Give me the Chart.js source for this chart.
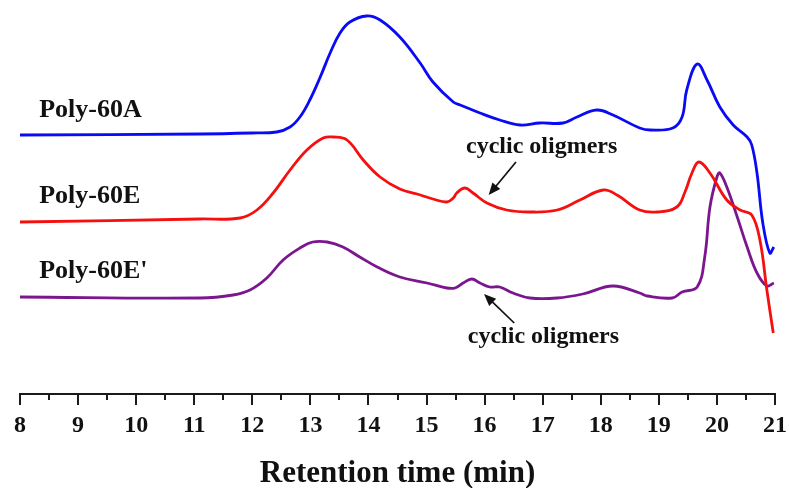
<!DOCTYPE html>
<html>
<head>
<meta charset="utf-8">
<script src="https://cdn.jsdelivr.net/npm/chart.js@4"></script>
<style>
  html, body { margin: 0; padding: 0; background: #fff; }
  #wrap { width: 789px; height: 488px; }
</style>
</head>
<body>
<div id="wrap"><canvas id="gpcChart"></canvas></div>
<script>
// GPC traces, retention time (min) vs detector response (offset, arbitrary units)
var timeA = [8.0, 11.10, 12.0, 12.42, 12.65, 12.82, 12.99, 13.17, 13.34, 13.51, 13.68, 13.97, 14.20, 14.54, 14.89, 15.11, 15.46, 15.58, 15.92, 16.26, 16.61, 16.95, 17.35, 17.59, 17.93, 18.21, 18.67, 18.85, 19.24, 19.40, 19.48, 19.66, 19.83, 20.05, 20.28, 20.52, 20.60, 20.69, 20.79, 20.91, 20.98];
var signalA = [259, 260, 261, 262, 267, 277, 294, 317, 341, 361, 372, 378, 374, 357, 331, 312, 292, 289, 281, 274, 269, 271, 271, 277, 284, 279, 266, 264, 266, 277, 304, 330, 314, 287, 269, 257, 249, 221, 171, 141, 147];

var timeE = [8.0, 11.10, 11.79, 12.08, 12.36, 12.65, 12.94, 13.22, 13.39, 13.63, 13.91, 14.20, 14.54, 14.84, 15.11, 15.35, 15.46, 15.52, 15.66, 15.80, 16.04, 16.38, 16.78, 17.25, 17.64, 18.04, 18.28, 18.67, 18.97, 19.31, 19.45, 19.57, 19.69, 19.88, 20.17, 20.40, 20.60, 20.74, 20.86, 20.97];
var signalE = [172, 175, 176, 184, 201, 224, 244, 256, 257, 254, 234, 217, 205, 200, 195, 192, 196, 201, 206, 201, 191, 184, 182, 184, 194, 204, 199, 184, 182, 187, 202, 221, 232, 221, 194, 184, 179, 154, 104, 61];

var timeP = [8.0, 11.10, 11.67, 11.96, 12.25, 12.53, 12.82, 13.04, 13.29, 13.56, 13.85, 14.15, 14.54, 15.01, 15.35, 15.49, 15.63, 15.78, 15.92, 16.09, 16.26, 16.49, 16.78, 17.25, 17.69, 18.21, 18.67, 18.80, 19.23, 19.40, 19.66, 19.79, 19.88, 20.00, 20.05, 20.17, 20.35, 20.52, 20.69, 20.86, 20.98];
var signalP = [97, 96, 99, 104, 116, 134, 146, 152, 152, 147, 137, 127, 117, 111, 106, 106, 111, 115, 111, 107, 107, 101, 96, 96, 100, 108, 101, 98, 96, 102, 107, 137, 187, 217, 221, 207, 177, 147, 121, 108, 111];

var sampleNames = ['Poly-60A', 'Poly-60E', "Poly-60E'"];
var sampleColors = ['#0a0af5', '#f51010', '#7c168e'];
var nameX = [8.33, 8.33, 8.33];
var nameY = [277, 191, 116];

// "cyclic oligmers" notes: text anchor and arrow tail -> tip
var noteText = ['cyclic oligmers', 'cyclic oligmers'];
var noteX = [15.68, 15.71];
var noteY = [241, 51];
var arrowFrom = [[16.54, 232], [16.51, 71]];
var arrowTo = [[16.07, 199], [15.99, 100]];

var serif = '"Liberation Serif", "Times New Roman", serif';

function pts(xs, ys) {
  return xs.map(function (x, i) { return { x: x, y: ys[i] }; });
}

var extras = {
  id: 'extras',
  afterDraw: function (chart) {
    var ctx = chart.ctx, sx = chart.scales.x, sy = chart.scales.y;
    var base = chart.chartArea.bottom;
    ctx.save();
    // major and minor tick marks below the axis line
    ctx.strokeStyle = '#1a1a1a';
    ctx.lineWidth = 2;
    sx.ticks.forEach(function (t) {
      var px = Math.round(sx.getPixelForValue(t.value));
      var len = Number.isInteger(t.value) ? 11 : 6;
      ctx.beginPath();
      ctx.moveTo(px, base);
      ctx.lineTo(px, base + len);
      ctx.stroke();
    });

    // sample names
    ctx.fillStyle = '#111';
    ctx.textBaseline = 'alphabetic';
    ctx.textAlign = 'left';
    ctx.font = 'bold 26px ' + serif;
    sampleNames.forEach(function (n, i) {
      ctx.fillText(n, sx.getPixelForValue(nameX[i]), sy.getPixelForValue(nameY[i]));
    });

    // notes with arrows
    ctx.font = 'bold 24px ' + serif;
    noteText.forEach(function (n, i) {
      ctx.fillText(n, sx.getPixelForValue(noteX[i]), sy.getPixelForValue(noteY[i]));
      var x1 = sx.getPixelForValue(arrowFrom[i][0]), y1 = sy.getPixelForValue(arrowFrom[i][1]);
      var x2 = sx.getPixelForValue(arrowTo[i][0]), y2 = sy.getPixelForValue(arrowTo[i][1]);
      var a = Math.atan2(y2 - y1, x2 - x1);
      var head = 13;
      ctx.strokeStyle = '#111';
      ctx.lineWidth = 1.7;
      ctx.beginPath();
      ctx.moveTo(x1, y1);
      ctx.lineTo(x2 - Math.cos(a) * head * 0.8, y2 - Math.sin(a) * head * 0.8);
      ctx.stroke();
      ctx.beginPath();
      ctx.moveTo(x2, y2);
      ctx.lineTo(x2 - head * Math.cos(a - 0.4), y2 - head * Math.sin(a - 0.4));
      ctx.lineTo(x2 - head * Math.cos(a + 0.4), y2 - head * Math.sin(a + 0.4));
      ctx.closePath();
      ctx.fillStyle = '#111';
      ctx.fill();
    });
    ctx.restore();
  }
};

var ctx = document.getElementById('gpcChart').getContext('2d');
var myChart = new Chart(ctx, {
  type: 'line',
  data: {
    datasets: [{
      label: sampleNames[0],
      data: pts(timeA, signalA),
      borderColor: sampleColors[0],
      borderWidth: 2.8
    }, {
      label: sampleNames[1],
      data: pts(timeE, signalE),
      borderColor: sampleColors[1],
      borderWidth: 2.8
    }, {
      label: sampleNames[2],
      data: pts(timeP, signalP),
      borderColor: sampleColors[2],
      borderWidth: 2.8
    }]
  },
  options: {
    responsive: true,
    maintainAspectRatio: false,
    animation: false,
    layout: { padding: { left: 20, right: 14, top: 0, bottom: 0 } },
    elements: {
      point: { radius: 0 },
      line: { tension: 0.4, fill: false }
    },
    plugins: {
      legend: { display: false },
      tooltip: { enabled: false }
    },
    scales: {
      x: {
        type: 'linear',
        min: 8,
        max: 21,
        afterFit: function (scale) {
          scale.height = 94;
          scale.paddingLeft = 0;
          scale.paddingRight = 0;
        },
        grid: { display: false, drawTicks: true, tickLength: 11 },
        border: { display: true, color: '#1a1a1a', width: 2 },
        ticks: {
          stepSize: 0.5,
          autoSkip: false,
          maxRotation: 0,
          padding: 6,
          color: '#111',
          font: { family: serif, size: 24, weight: 'bold' },
          callback: function (v) { return Number.isInteger(v) ? String(v) : ''; }
        },
        title: {
          display: true,
          text: 'Retention time (min)',
          color: '#111',
          font: { family: serif, size: 31, weight: 'bold' },
          padding: { top: 0, bottom: -5 }
        }
      },
      y: {
        display: false,
        min: 0,
        max: 394
      }
    }
  },
  plugins: [extras]
});
</script>
</body>
</html>
